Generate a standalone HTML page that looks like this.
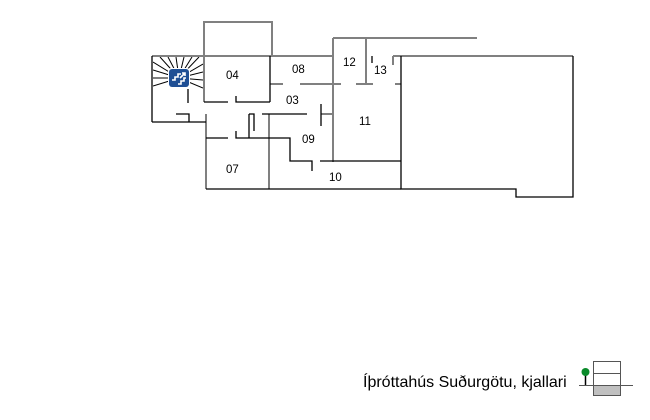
<!DOCTYPE html>
<html><head><meta charset="utf-8"><style>
html,body{margin:0;padding:0;background:#fff;width:650px;height:420px;overflow:hidden}
svg{display:block}
text{font-family:"Liberation Sans",sans-serif;font-size:11.5px;fill:#000}
</style></head><body>
<svg width="650" height="420" viewBox="0 0 650 420">
<defs><clipPath id="st"><rect x="153" y="57" width="50" height="33"/></clipPath></defs>
<g clip-path="url(#st)" stroke="#000" stroke-width="1">
<line x1="179" y1="78" x2="153" y2="62"/><line x1="179" y1="78" x2="153" y2="70"/><line x1="179" y1="78" x2="153" y2="78"/><line x1="179" y1="78" x2="153" y2="86"/>
<line x1="179" y1="78" x2="160" y2="57"/><line x1="179" y1="78" x2="168" y2="57"/><line x1="179" y1="78" x2="176" y2="57"/><line x1="179" y1="78" x2="184" y2="57"/><line x1="179" y1="78" x2="192" y2="57"/><line x1="179" y1="78" x2="199" y2="57"/>
<line x1="179" y1="78" x2="203" y2="64"/><line x1="179" y1="78" x2="203" y2="72"/><line x1="179" y1="78" x2="203" y2="80"/><line x1="179" y1="78" x2="203" y2="88"/>
</g>
<rect x="168" y="68" width="22" height="20" rx="3" fill="#fff"/>
<rect x="169" y="69" width="20" height="18" rx="3" fill="#1f4f94"/>
<path d="M172 80h3v-3h3v-3h3" stroke="#fff" stroke-width="1.6" fill="none"/>
<path d="M178 84h3v-3h3v-3h2 M180 78l5-5 M182 73h3v3" stroke="#fff" stroke-width="1.6" fill="none"/>
<g stroke="#808080" stroke-width="2" fill="none">
<polyline points="204,56 204,22 272,22 272,56"/>
<line x1="152" y1="56" x2="333" y2="56"/>
<line x1="333" y1="38" x2="477" y2="38"/>
<line x1="333" y1="38" x2="333" y2="162"/>
<line x1="366" y1="38" x2="366" y2="84"/>
<line x1="393" y1="56" x2="573" y2="56"/>
<line x1="393" y1="56" x2="393" y2="65"/>
<line x1="206" y1="114" x2="206" y2="189"/>
<line x1="204" y1="56" x2="204" y2="102"/>
<line x1="270" y1="84" x2="283" y2="84"/><line x1="300" y1="84" x2="341" y2="84"/><line x1="356" y1="84" x2="373" y2="84"/><line x1="395" y1="84" x2="401" y2="84"/>
<line x1="269" y1="114" x2="269" y2="189"/>
<line x1="321" y1="114" x2="333" y2="114"/>
</g>
<g stroke="#000" stroke-width="1.3" fill="none">
<line x1="152" y1="56" x2="152" y2="122"/>
<polyline points="152,122 206,122"/>
<line x1="188" y1="89" x2="188" y2="103"/>
<polyline points="176,114 189,114 189,122"/>
<line x1="270" y1="56" x2="270" y2="102"/>
<line x1="204" y1="102" x2="228" y2="102"/>
<polyline points="236,96 236,102 270,102"/>
<line x1="372" y1="56" x2="372" y2="63"/>
<polyline points="401,56 401,189 516,189 516,197 573,197 573,56"/>
<line x1="320" y1="161" x2="401" y2="161"/>
<line x1="206" y1="189" x2="401" y2="189"/>
<line x1="262" y1="114" x2="307" y2="114"/>
<line x1="321" y1="104" x2="321" y2="126"/>
<line x1="206" y1="138" x2="228" y2="138"/>
<polyline points="236,131 236,138 290,138 290,161 312,161 312,171"/>
<line x1="249" y1="114" x2="249" y2="138"/>
<polyline points="249,114 254,114 254,131"/>
</g>
<text x="226" y="79">04</text><text x="292" y="73">08</text><text x="343" y="66">12</text><text x="374" y="74">13</text>
<text x="286" y="104">03</text><text x="359" y="125">11</text><text x="302" y="143">09</text><text x="226" y="173">07</text><text x="329" y="181">10</text>
<text x="363" y="387" style="font-size:16px">Íþróttahús Suðurgötu, kjallari</text>
<rect x="593" y="385" width="27" height="10" fill="#c0c0c0"/>
<rect x="593.5" y="361.5" width="27" height="34" fill="none" stroke="#555" stroke-width="1"/>
<line x1="593" y1="373.5" x2="620" y2="373.5" stroke="#555"/>
<line x1="579" y1="385.5" x2="633" y2="385.5" stroke="#555"/>
<line x1="585.5" y1="372" x2="585.5" y2="385" stroke="#000" stroke-width="1.5"/>
<circle cx="585.5" cy="372" r="4" fill="#0a8a2a"/>
</svg>
</body></html>
